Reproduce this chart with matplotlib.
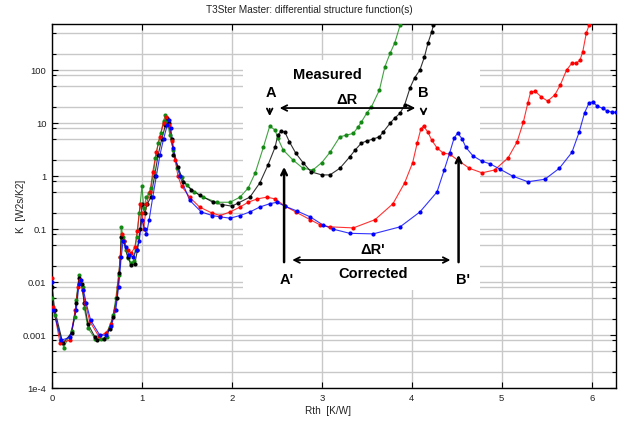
import numpy as np
import matplotlib.pyplot as plt
from matplotlib.patches import Rectangle
from matplotlib.ticker import FixedLocator, FixedFormatter, NullFormatter

plt.rcParams['font.family'] = ['Liberation Sans', 'DejaVu Sans']

# measured / corrected structure functions (Rth [K/W], K [W2s/K2])
green_r = [0.00, 0.03, 0.13, 0.22, 0.255, 0.27, 0.30, 0.34, 0.36, 0.40, 0.48, 0.55, 0.61, 0.64, 0.68,
           0.71, 0.74, 0.76, 0.77, 0.79, 0.82, 0.85, 0.88, 0.91, 0.94, 0.97, 1.00, 1.02, 1.05, 1.08,
           1.10, 1.13, 1.15, 1.18, 1.21, 1.24, 1.26, 1.28, 1.31, 1.35, 1.39, 1.44, 1.50, 1.58, 1.68,
           1.83, 1.98, 2.09, 2.18, 2.26, 2.35, 2.42, 2.48, 2.51, 2.57, 2.68, 2.79, 2.90, 3.00, 3.09,
           3.20, 3.27, 3.35, 3.40, 3.44, 3.50, 3.55, 3.64, 3.70, 3.76, 3.81, 3.87, 3.92]
green_k = [0.005, 0.0024, 0.00058, 0.0012, 0.0022, 0.0046, 0.0135, 0.008, 0.0032, 0.00135, 0.00085,
           0.00085, 0.00092, 0.0014, 0.0024, 0.005, 0.0135, 0.03, 0.11, 0.07, 0.04, 0.028, 0.023,
           0.025, 0.07, 0.2, 0.65, 0.25, 0.4, 0.48, 0.6, 1.2, 2.2, 4.2, 6.5, 11, 14, 11, 6, 3.1, 1.4,
           0.95, 0.68, 0.5, 0.4, 0.32, 0.32, 0.4, 0.59, 1.15, 3.5, 8.7, 7.4, 5.2, 3.1, 2.0, 1.4, 1.3,
           1.8, 2.8, 5.5, 5.9, 6.4, 8.3, 10.5, 15.5, 20, 42, 115, 210, 325, 700, 1100]

black_r = [0.00, 0.03, 0.12, 0.22, 0.27, 0.30, 0.33, 0.36, 0.40, 0.48, 0.50, 0.58, 0.64, 0.68, 0.72,
           0.75, 0.77, 0.80, 0.84, 0.88, 0.92, 0.95, 0.98, 1.00, 1.03, 1.06, 1.10, 1.14, 1.18, 1.22,
           1.26, 1.28, 1.30, 1.33, 1.35, 1.40, 1.46, 1.55, 1.64, 1.79, 1.89, 2.00, 2.07, 2.20, 2.31,
           2.40, 2.48, 2.51, 2.55, 2.59, 2.64, 2.71, 2.79, 2.88, 3.00, 3.09, 3.20, 3.31, 3.37, 3.44,
           3.50, 3.57, 3.64, 3.68, 3.76, 3.81, 3.87, 3.92, 3.98, 4.03, 4.09, 4.14, 4.18, 4.22, 4.24, 4.27]
black_k = [0.008, 0.003, 0.0007, 0.0011, 0.004, 0.012, 0.009, 0.004, 0.0016, 0.0009, 0.0008, 0.00085,
           0.0013, 0.0022, 0.005, 0.015, 0.07, 0.06, 0.03, 0.021, 0.022, 0.04, 0.1, 0.3, 0.2, 0.3, 0.4,
           1.0, 2.5, 5, 9, 12.4, 10, 5, 2.5, 1.5, 0.78, 0.55, 0.44, 0.32, 0.29, 0.27, 0.31, 0.40, 0.74,
           1.6, 3.5, 5.9, 7.1, 6.7, 4.4, 2.7, 1.8, 1.2, 1.05, 1.05, 1.4, 2.3, 3.1, 4.2, 4.6, 5.0, 5.5,
           6.7, 10, 12.4, 15.4, 22, 46, 71, 100, 176, 325, 520, 700, 1000]

red_r = [0.00, 0.015, 0.09, 0.20, 0.26, 0.29, 0.31, 0.34, 0.37, 0.42, 0.52, 0.60, 0.66, 0.70, 0.73,
         0.76, 0.78, 0.80, 0.84, 0.88, 0.92, 0.95, 0.98, 1.00, 1.02, 1.05, 1.09, 1.12, 1.16, 1.20,
         1.24, 1.27, 1.30, 1.33, 1.37, 1.40, 1.44, 1.53, 1.64, 1.78, 1.87, 1.98, 2.09, 2.18, 2.28,
         2.39, 2.48, 2.59, 2.71, 2.87, 2.98, 3.09, 3.35, 3.59, 3.79, 3.92, 4.01, 4.06, 4.10, 4.13,
         4.18, 4.22, 4.28, 4.35, 4.42, 4.51, 4.64, 4.78, 4.92, 5.07, 5.17, 5.24, 5.29, 5.32, 5.37,
         5.44, 5.51, 5.59, 5.65, 5.72, 5.78, 5.83, 5.87, 5.90, 5.94, 5.97, 5.99]
red_k = [0.012, 0.0034, 0.0007, 0.0008, 0.003, 0.008, 0.011, 0.007, 0.004, 0.0018, 0.00095, 0.0011,
         0.0016, 0.003, 0.008, 0.03, 0.08, 0.06, 0.04, 0.035, 0.045, 0.09, 0.3, 0.2, 0.1, 0.3, 0.5,
         1.2, 2.8, 5.5, 10, 13, 9, 4.5, 2, 1.0, 0.65, 0.40, 0.26, 0.20, 0.18, 0.21, 0.26, 0.32, 0.37,
         0.40, 0.37, 0.27, 0.21, 0.15, 0.12, 0.11, 0.105, 0.15, 0.30, 0.74, 1.8, 4.2, 7.7, 8.8, 6.7,
         4.8, 3.4, 2.7, 2.6, 2.0, 1.4, 1.15, 1.3, 2.2, 4.4, 10.4, 24, 38, 40, 31, 26, 34, 52, 100,
         135, 135, 155, 220, 500, 700, 1000]

blue_r = [0.00, 0.015, 0.10, 0.20, 0.27, 0.30, 0.32, 0.35, 0.38, 0.43, 0.53, 0.60, 0.66, 0.71, 0.74,
          0.77, 0.79, 0.82, 0.86, 0.90, 0.94, 0.97, 1.00, 1.03, 1.05, 1.08, 1.12, 1.16, 1.20, 1.24,
          1.28, 1.30, 1.32, 1.35, 1.42, 1.53, 1.66, 1.78, 1.87, 1.98, 2.09, 2.20, 2.31, 2.42, 2.50,
          2.59, 2.72, 2.87, 3.01, 3.12, 3.31, 3.57, 3.87, 4.09, 4.28, 4.36, 4.42, 4.47, 4.51, 4.56,
          4.60, 4.68, 4.78, 4.87, 4.98, 5.12, 5.29, 5.48, 5.64, 5.78, 5.86, 5.92, 5.97, 6.01, 6.06,
          6.12, 6.17, 6.23, 6.27]
blue_k = [0.01, 0.003, 0.0008, 0.0009, 0.003, 0.009, 0.011, 0.007, 0.004, 0.0019, 0.001, 0.001,
          0.0015, 0.003, 0.008, 0.03, 0.06, 0.045, 0.032, 0.03, 0.04, 0.06, 0.15, 0.1, 0.08, 0.15,
          0.4, 1.0, 2.5, 5, 9, 11.5, 8, 3.4, 1.0, 0.35, 0.21, 0.18, 0.17, 0.16, 0.18, 0.21, 0.26,
          0.30, 0.32, 0.27, 0.22, 0.17, 0.12, 0.10, 0.083, 0.081, 0.11, 0.21, 0.5, 1.3, 2.7, 5.2,
          6.5, 5.0, 3.5, 2.4, 1.9, 1.7, 1.35, 1.0, 0.78, 0.87, 1.4, 2.8, 6.7, 15.5, 24, 25, 21, 19,
          17, 16, 16]

yticks = [1e-4, 1e-3, 1e-2, 1e-1, 1, 10, 100]
ytick_labels = ['1e-4', '0.001', '0.01', '0.1', '1', '10', '100']

W, H = 618, 424
fig = plt.figure(figsize=(W / 100, H / 100), dpi=100)
ax = fig.add_axes([52 / W, (H - 388) / H, 564 / W, 364 / H])

for r, k, c in [(green_r, green_k, '#148a14'), (black_r, black_k, 'black'),
                (red_r, red_k, '#ff0000'), (blue_r, blue_k, '#0000ff')]:
    ax.plot(r, k, color=c, lw=0.8, alpha=0.8, zorder=2)
    ax.plot(r, k, 'o', color=c, ms=3, mec='none', zorder=3)

ax.set_yscale('log')
ax.set_xlim(0, 6.27)
ax.set_ylim(1e-4, 740)

minors = [m * 10.0 ** e for e in range(-4, 3) for m in (2, 5, 8)]
ax.yaxis.set_major_locator(FixedLocator(yticks))
ax.yaxis.set_major_formatter(FixedFormatter(ytick_labels))
ax.yaxis.set_minor_locator(FixedLocator(minors))
ax.yaxis.set_minor_formatter(NullFormatter())
ax.set_xticks([0, 1, 2, 3, 4, 5, 6])

ax.grid(True, which='both', color='#c8c8c8', lw=1)
ax.tick_params(which='both', direction='in', top=True, right=True, labelsize=6.8,
               length=4, width=0.8, pad=4, labelcolor='#222222')
ax.tick_params(which='minor', length=3)
for s in ax.spines.values():
    s.set_linewidth(1)

# white box behind the annotations hides the grid
ax.add_patch(Rectangle((2.12, 0.0071), 2.64, 155, facecolor='white', edgecolor='none', zorder=1.6))

fig.text(309 / W, 1 - 10 / H, 'T3Ster Master: differential structure function(s)',
         ha='center', va='center', fontsize=7.2, color='#222222')
ax.set_xlabel('Rth  [K/W]', fontsize=7.2, color='#222222')
ax.set_ylabel('K  [W2s/K2]', fontsize=7.2, color='#222222')
ax.xaxis.set_label_coords(0.49, -0.05)
ax.yaxis.set_label_coords(-0.046, 0.5)

big = dict(fontsize=10.5, fontweight='bold', ha='center', va='center', zorder=5)
ax.text(3.06, 80, 'Measured', **big)
ax.text(3.57, 0.014, 'Corrected', **big)
ax.text(2.43, 37, 'A', **big)
ax.text(4.13, 37, 'B', **big)
ax.text(3.28, 27, '\u0394R', **big)
ax.text(3.57, 0.04, "\u0394R'", **big)
ax.text(2.61, 0.011, "A'", **big)
ax.text(4.57, 0.011, "B'", **big)

arr = dict(arrowstyle='->', color='black', lw=1.3, mutation_scale=10)
ax.annotate('', xy=(2.42, 12), xytext=(2.42, 21), arrowprops=arr, zorder=5)
ax.annotate('', xy=(4.13, 12), xytext=(4.13, 18), arrowprops=arr, zorder=5)
ax.annotate('', xy=(2.50, 19.2), xytext=(4.07, 19.2),
            arrowprops=dict(arr, arrowstyle='<->'), zorder=5)
ax.annotate('', xy=(2.64, 0.026), xytext=(4.46, 0.026),
            arrowprops=dict(arr, arrowstyle='<->'), zorder=5)
ax.annotate('', xy=(2.58, 1.68), xytext=(2.58, 0.021),
            arrowprops=dict(arr, lw=1.8), zorder=5)
ax.annotate('', xy=(4.52, 2.84), xytext=(4.52, 0.021),
            arrowprops=dict(arr, lw=1.8), zorder=5)

fig.savefig('out.png', dpi=100)
